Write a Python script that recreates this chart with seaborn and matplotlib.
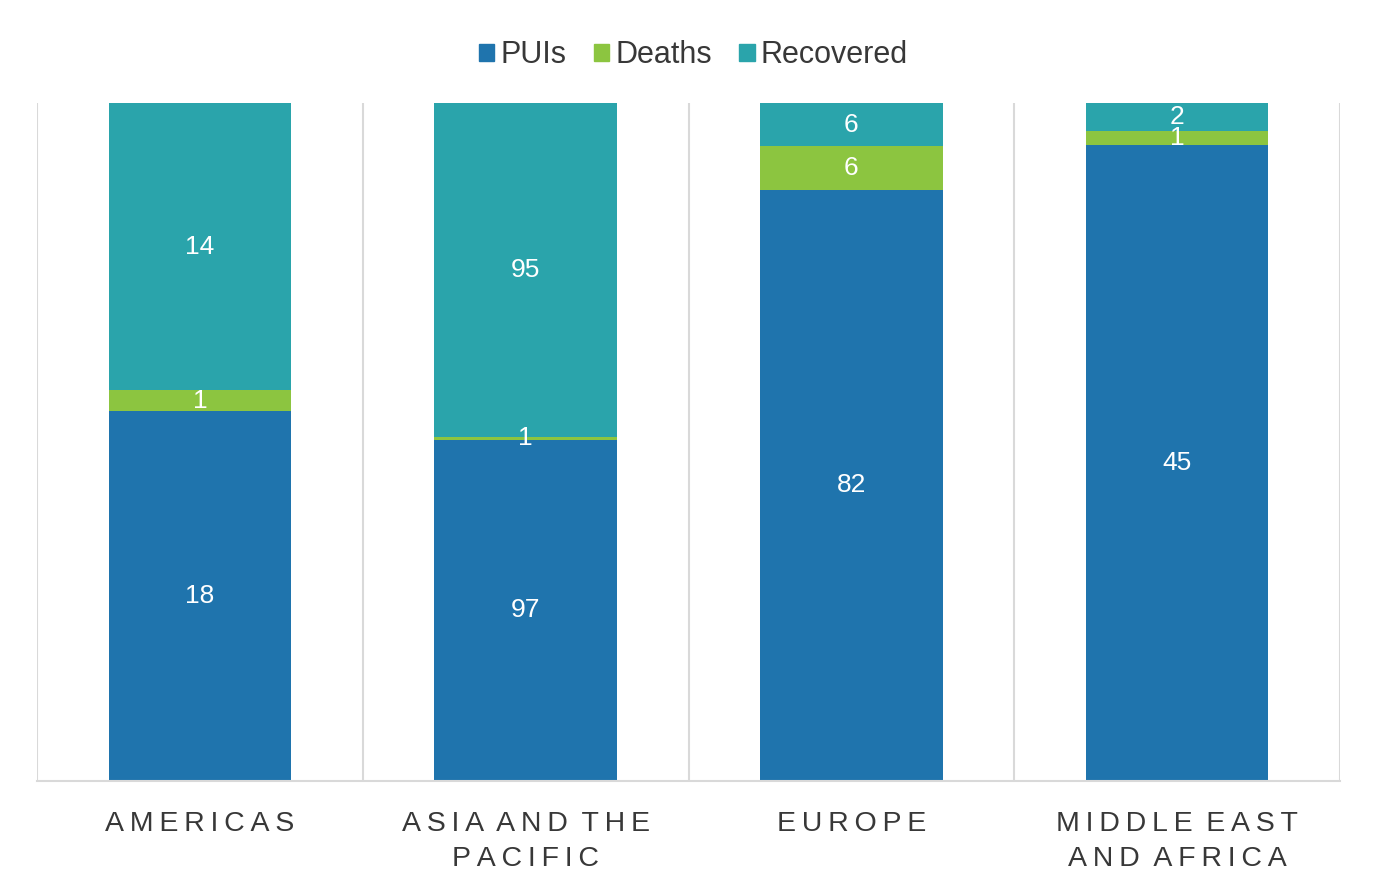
import numpy as np
import pandas as pd
import matplotlib
matplotlib.use("Agg")
import matplotlib.pyplot as plt
import seaborn as sns
from matplotlib.patches import Patch

regions = ["AMERICAS", "ASIA AND THE\nPACIFIC", "EUROPE", "MIDDLE EAST\nAND AFRICA"]
puis = [18, 97, 82, 45]
deaths = [1, 1, 6, 1]
recovered = [14, 95, 6, 2]

series = ["PUIs", "Deaths", "Recovered"]
colors = {"PUIs": "#1f74ad", "Deaths": "#8cc540", "Recovered": "#2aa4ab"}

sns.set_theme(style="white")
plt.rcParams["font.family"] = ["Liberation Sans", "DejaVu Sans"]

df = pd.DataFrame({"Region": regions, "PUIs": puis, "Deaths": deaths, "Recovered": recovered})
total = df[series].sum(axis=1)
pct = df[series].div(total, axis=0)
cum = pct.cumsum(axis=1)

fig = plt.figure(figsize=(13.73, 8.88), dpi=100)
ax = fig.add_axes([0.027, 0.121, 0.949, 0.763])

# draw cumulative layers from top to bottom so each one covers the next
for s in series[::-1]:
    sns.barplot(x=df["Region"], y=cum[s], color=colors[s], width=0.56,
                saturation=1, linewidth=0, ax=ax, zorder=2)

# labels in the middle of each segment
for i in range(len(df)):
    lower = 0
    for s in series:
        val = df.loc[i, s]
        mid = lower + pct.loc[i, s] / 2
        ax.text(i, mid, str(val), ha="center", va="center", color="white", fontsize=19, zorder=3)
        lower += pct.loc[i, s]

ax.set_ylim(0, 1.0)
ax.set_xlim(-0.5, len(df) - 0.5)
ax.set_yticks([])
ax.set_xlabel("")
ax.set_ylabel("")
for b in np.arange(-0.5, len(df), 1):
    ax.axvline(b, color="#d9d9d9", lw=1.5, zorder=1)
for sp in ["top", "left", "right"]:
    ax.spines[sp].set_visible(False)
ax.spines["bottom"].set_color("#d9d9d9")
ax.spines["bottom"].set_linewidth(1.5)

# letter-spaced category labels, as in the original
spaced = ["\n".join("\u2009".join(line).replace("\u2009 \u2009", " \u2009") for line in r.split("\n"))
          for r in regions]
ax.set_xticks(range(len(regions)))
ax.set_xticklabels(spaced)
ax.tick_params(axis="x", length=0, pad=22, labelsize=20.5, labelcolor="#383838")
for lab in ax.get_xticklabels():
    lab.set_linespacing(1.45)

handles = [Patch(color=colors[s], label=s) for s in series]
fig.legend(handles=handles, loc="center", bbox_to_anchor=(0.505, 0.938), ncol=3, frameon=False,
           fontsize=22, handlelength=0.5, handleheight=0.5, handletextpad=0.2, columnspacing=0.9,
           labelcolor="#383838")

fig.savefig("out.png", dpi=100, facecolor="white")
